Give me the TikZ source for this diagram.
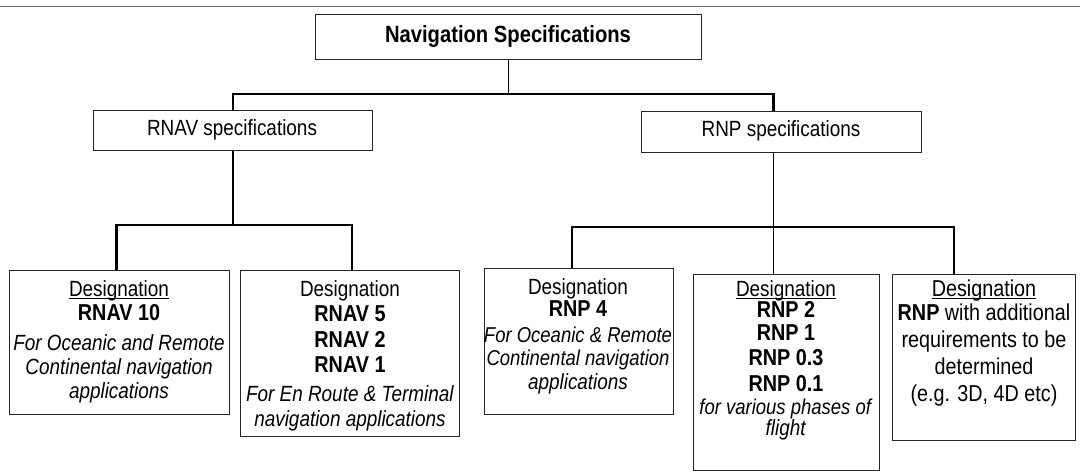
\documentclass[tikz,border=0pt]{standalone}
\usepackage{fontspec}
\setmainfont{Liberation Sans}[FakeStretch=0.86]
\newcommand\dul[1]{\setbox0\hbox{#1}\rlap{\rule[-2.6pt]{\wd0}{1.1pt}}\box0}
\begin{document}
\begin{tikzpicture}[x=1pt,y=-1pt,
  box/.style={draw=black!85, line width=0.9pt, rectangle, inner sep=0, anchor=north west},
  bus/.style={line width=2.2pt},
  link/.style={line width=1.1pt},
  txt/.style={align=center, inner sep=0, anchor=north, font=\fontsize{22}{24}\selectfont},
  head/.style={font=\fontsize{22}{24}\selectfont}]
\useasboundingbox (0,0) rectangle (1080,476);
\fill[white] (0,0) rectangle (1080,476);
\draw[black!60, line width=0.8pt] (0,6) -- (1080,6);

% level 0
\node[box, minimum width=386, minimum height=45] (top) at (315,14) {};
\node[font=\fontsize{23.5}{24}\selectfont\bfseries] (toptxt) at (508,36) {Navigation Specifications};

% level 1
\node[box, minimum width=279, minimum height=40] (rnav) at (93,110) {};
\node[head] (rnavtxt) at (232,130) {RNAV specifications};
\node[box, minimum width=280, minimum height=41] (rnp) at (641,111) {};
\node[head] (rnptxt) at (781,131) {RNP specifications};

% level 2 boxes
\node[box, minimum width=220, minimum height=144] (b1) at (9,270) {};
\node[box, minimum width=219, minimum height=166] (b2) at (240,270) {};
\node[box, minimum width=189, minimum height=146] (b3) at (484,268) {};
\node[box, minimum width=186, minimum height=196] (b4) at (693,274) {};
\node[box, minimum width=183, minimum height=166] (b5) at (892,274) {};

% texts
\node[txt] (t1) at (119,280) {\dul{Designation}\\
  \fontsize{23}{24}\selectfont\textbf{RNAV 10}\\[6pt]
  \textit{For Oceanic and Remote}\\
  \textit{Continental navigation}\\
  \textit{applications}};
\node[txt] (t2) at (350,280) {Designation\\[1pt]
  \fontsize{23}{24}\selectfont\textbf{RNAV 5}\\[2pt]
  \fontsize{23}{24}\selectfont\textbf{RNAV 2}\\[1pt]
  \fontsize{23}{24}\selectfont\textbf{RNAV 1}\\[5pt]
  \textit{For En Route \& Terminal}\\[1pt]
  \textit{navigation applications}};
\node[txt] (t3) at (578,278) {Designation\\[-2pt]
  \fontsize{23}{24}\selectfont\textbf{RNP 4}\\[2pt]
  \fontsize{21.5}{24}\selectfont\textit{For Oceanic \& Remote}\\[-1pt]
  \fontsize{21.5}{24}\selectfont\textit{Continental navigation}\\
  \textit{applications}};
\node[txt] (t4) at (786,280) {\dul{Designation}\\[-3pt]
  \fontsize{23}{24}\selectfont\textbf{RNP 2}\\[-1pt]
  \fontsize{23}{24}\selectfont\textbf{RNP 1}\\[1pt]
  \fontsize{23}{24}\selectfont\textbf{RNP 0.3}\\[2pt]
  \fontsize{23}{24}\selectfont\textbf{RNP 0.1}\\[-1pt]
  \fontsize{21.5}{24}\selectfont\textit{for various phases of}\\[-3pt]
  \textit{flight}};
\node[txt, font=\fontsize{23}{24}\selectfont] (t5) at (984,280) {\dul{Designation}\\
  \textbf{RNP} with additional\\[3pt]
  requirements to be\\[3pt]
  determined\\[3pt]
  (e.g. 3D, 4D etc)};

% connectors
\draw[link] (top.south) -- ++(0,34) coordinate (j0);
\draw[bus] (rnav.north) |- (j0) -| ([xshift=-8pt]rnp.north);
\draw[link] (rnav.south) -- ++(0,74) coordinate (j1);
\draw[bus] ([xshift=-3pt]b1.north) |- (j1) -| ([xshift=2pt]b2.north);
\draw[link] ([xshift=-8pt]rnp.south) -- ([xshift=-8pt]rnp.south |- b4.north);
\coordinate (j2) at ([xshift=-8pt,yshift=-74pt]rnp.south);
\draw[bus] ([xshift=-7pt]b3.north) |- (j2) -| ([xshift=-30pt]b5.north);
\end{tikzpicture}
\end{document}
